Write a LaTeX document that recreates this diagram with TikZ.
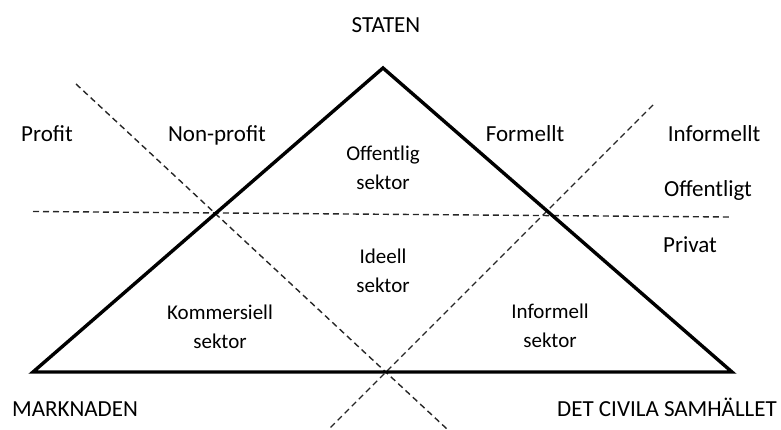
\documentclass[tikz,border=0pt]{standalone}
\usepackage{fontspec}
\setmainfont{Carlito}
\usepackage{tikz}
\usetikzlibrary{calc}
\usetikzlibrary{positioning}

\tikzset{
  pol/.style={font=\fontsize{23}{26}\selectfont,anchor=base},
  sektor/.style={font=\fontsize{21}{29}\selectfont,align=center},
  grans/.style={line width=1.4pt,dash pattern=on 6pt off 4pt,black!85}
}

\begin{document}
\begin{tikzpicture}[x=1pt,y=-1pt]
  \useasboundingbox (0,0) rectangle (781,430);
  % triangelns horn
  \coordinate (st) at (383,68);
  \coordinate (ma) at (33,372);
  \coordinate (ci) at (732,372);
  % gransernas andpunkter
  \coordinate (np1) at (76,84);
  \coordinate (np2) at (447,429);
  \coordinate (fi1) at (653,105);
  \coordinate (fi2) at (329,429);
  \coordinate (op1) at (33,211.5);
  \coordinate (op2) at (729,217);

  \draw[grans] (np1) -- (np2);
  \draw[grans] (fi1) -- (fi2);
  \draw[grans] (op1) -- (op2);
  \draw[line width=3.4pt,line join=miter] (st) -- (ma) -- (ci) -- cycle;

  \node[pol] (staten) at (386,33) {STATEN};
  \node[pol] (marknaden) at (75,416) {MARKNADEN};
  \node[pol] (civila) at (667,416) {DET CIVILA SAMHÄLLET};

  \node[pol] (profit) at (47,142) {Profit};
  \node[pol] (nonprofit) at (217,142) {Non-profit};
  \node[pol] (formellt) at (525,142) {Formellt};
  \node[pol] (informellt) at (714,142) {Informellt};
  \node[pol] (offentligt) at (708,197) {Offentligt};
  \node[pol] (privat) at (690,252) {Privat};

  \node[sektor] (offsek) at (383,168) {Offentlig\\sektor};
  \node[sektor] (idesek) at (383,271) {Ideell\\sektor};
  \node[sektor] (komsek) at (220,327) {Kommersiell\\sektor};
  \node[sektor] (infsek) at (550,326) {Informell\\sektor};
\end{tikzpicture}
\end{document}
